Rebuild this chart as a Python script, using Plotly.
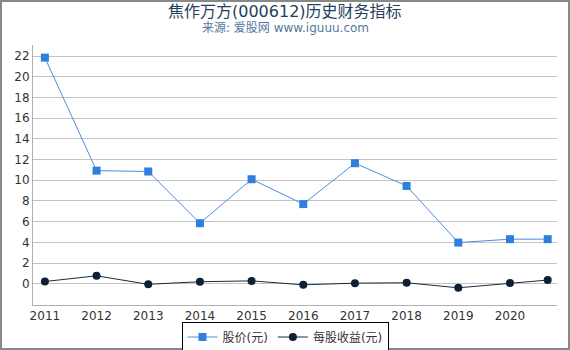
import plotly.graph_objects as go

years = [2011, 2012, 2013, 2014, 2015, 2016, 2017, 2018, 2019, 2020, 2020.73]
x_tick_vals = [2011, 2012, 2013, 2014, 2015, 2016, 2017, 2018, 2019, 2020]
x_tick_text = ["2011", "2012", "2013", "2014", "2015", "2016", "2017", "2018", "2019", "2020"]
price = [21.85, 10.93, 10.85, 5.85, 10.1, 7.7, 11.65, 9.45, 3.98, 4.31, 4.31]
eps = [0.22, 0.77, -0.05, 0.2, 0.28, -0.1, 0.06, 0.1, -0.39, 0.07, 0.36]
y_tick_vals = list(range(0, 23, 2))

FONT = "DejaVu Sans, Noto Sans CJK SC, sans-serif"

fig = go.Figure()
fig.add_trace(go.Scatter(
    x=years, y=price, name="股价(元)", mode="lines+markers",
    line=dict(color="#4a8fe0", width=1),
    marker=dict(symbol="square", size=8, color="#2f80dc"),
))
fig.add_trace(go.Scatter(
    x=years, y=eps, name="每股收益(元)", mode="lines+markers",
    line=dict(color="#1a2a40", width=1),
    marker=dict(symbol="circle", size=8, color="#0f1f35"),
))

L, R, T, B = 33, 557, 45, 305
W, H = 570, 350
pw, ph = R - L, B - T

def px(x):
    return (x - L) / pw

def py(y):
    return (B - y) / ph

fig.update_layout(
    width=W, height=H,
    margin=dict(l=L, r=W - R, t=T, b=H - B, autoexpand=False),
    paper_bgcolor="white", plot_bgcolor="white",
    font=dict(family=FONT, size=12, color="#333333"),
    showlegend=True,
    legend=dict(
        orientation="h", x=0.5, xanchor="center", xref="container",
        y=1 - 337 / H, yanchor="middle", yref="container",
        bordercolor="#000000", borderwidth=1, bgcolor="white",
        font=dict(size=12, color="#333333"),
        itemwidth=30, tracegroupgap=0,
    ),
    xaxis=dict(
        range=[2010.77, 2020.91], tickmode="array", tickvals=x_tick_vals, ticktext=x_tick_text,
        showgrid=False, zeroline=False, showline=True, linecolor="#b0b0b0", linewidth=1,
        ticks="", tickfont=dict(size=12, color="#333333"), automargin=False,
    ),
    yaxis=dict(
        range=[-2.05, 23.07], tickmode="array", tickvals=y_tick_vals,
        showgrid=True, gridcolor="#c4c4c4", gridwidth=1, zeroline=False,
        showline=True, linecolor="#b0b0b0", linewidth=1, ticks="",
        tickfont=dict(size=12, color="#333333"), automargin=False,
    ),
    annotations=[
        dict(text="焦作万方(000612)历史财务指标", xref="paper", yref="paper",
             x=px(285), y=py(11), xanchor="center", yanchor="middle", showarrow=False,
             font=dict(size=16, color="#263e5e", family=FONT)),
        dict(text="来源: 爱股网 www.iguuu.com", xref="paper", yref="paper",
             x=px(285), y=py(28), xanchor="center", yanchor="middle", showarrow=False,
             font=dict(size=12, color="#5577a0", family=FONT)),
    ],
    shapes=[
        dict(type="rect", xref="paper", yref="paper",
             x0=px(1), x1=px(569), y0=py(349), y1=py(1),
             line=dict(color="#888888", width=2), fillcolor="rgba(0,0,0,0)", layer="above"),
    ],
)

fig.write_html("out.html")
